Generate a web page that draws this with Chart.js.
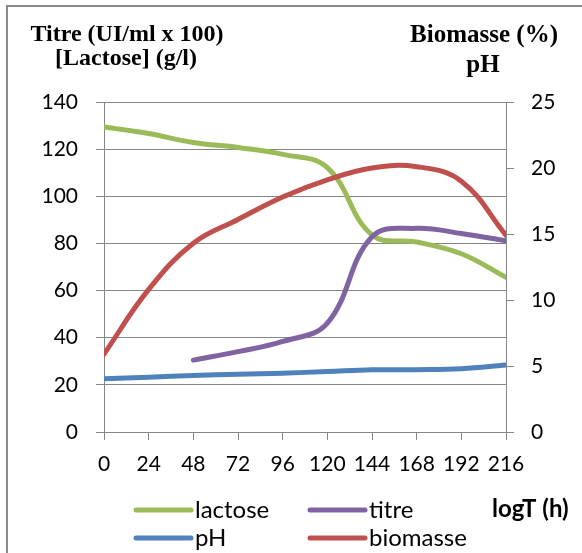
<!DOCTYPE html>
<html>
<head>
<meta charset="utf-8">
<script src="https://cdn.jsdelivr.net/npm/chart.js@4"></script>
<style>
  html, body { margin: 0; padding: 0; background: #fff; }
  canvas { display: block; }
</style>
</head>
<body>
<canvas id="graphe" width="582" height="553"></canvas>
<script>
// temps de prélèvement (h)
const heures = [0, 24, 48, 72, 96, 120, 144, 168, 192, 216];

// axe de gauche
const lactose = [129.4, 126.6, 122.8, 120.7, 117.8, 112.2, 83.6, 80.6, 75.6, 65.6];
const titre = [null, null, 30.5, 34.1, 38.4, 46.2, 82.8, 86.4, 84.2, 81.1];

// axe de droite
const ph = [4.03, 4.15, 4.28, 4.37, 4.46, 4.58, 4.71, 4.72, 4.79, 5.07];
const biomasse = [5.9, 10.8, 14.3, 16.1, 17.8, 19.1, 20.0, 20.1, 19.0, 14.9];

const ticksGauche = [0, 20, 40, 60, 80, 100, 120, 140];
const ticksDroite = [0, 5, 10, 15, 20, 25];

const GRIS = '#868686';
const POLICE = 'Lato, "Open Sans", sans-serif';

function points(vals) {
    return heures.map((h, i) => ({ x: h, y: vals[i] })).filter(p => p.y !== null);
}

function serie(label, vals, couleur, axe, ordre) {
    return {
        label: label,
        data: points(vals),
        yAxisID: axe,
        borderColor: couleur,
        backgroundColor: couleur,
        borderWidth: 5,
        borderCapStyle: 'round',
        borderJoinStyle: 'round',
        pointRadius: 0,
        tension: 0.4,
        fill: false,
        order: ordre
    };
}

// titres d'axes, légende et cadre dessinés à la main
const decor = {
    id: 'decor',
    afterDraw(chart) {
        const ctx = chart.ctx;
        ctx.save();

        ctx.strokeStyle = '#8a8a8a';
        ctx.lineWidth = 2;
        ctx.beginPath();
        ctx.moveTo(7, 553);
        ctx.lineTo(7, 6);
        ctx.lineTo(582, 6);
        ctx.stroke();

        ctx.fillStyle = '#000';
        ctx.font = 'bold 24px "Liberation Serif", "Times New Roman", serif';
        ctx.textAlign = 'center';
        ctx.textBaseline = 'alphabetic';
        ctx.fillText('Titre (UI/ml x 100)', 127, 41);
        ctx.fillText('[Lactose] (g/l)', 126, 65);
        ctx.font = 'bold 25px "Liberation Serif", "Times New Roman", serif';
        ctx.fillText('Biomasse (%)', 484, 42);
        ctx.fillText('pH', 483, 72);

        ctx.font = 'bold 24px ' + POLICE;
        ctx.textAlign = 'left';
        ctx.fillText('logT (h)', 492, 517);

        // légende sur deux colonnes
        const cases = [
            { ds: 0, x: 136, y: 510 },
            { ds: 1, x: 310, y: 510 },
            { ds: 2, x: 136, y: 538 },
            { ds: 3, x: 310, y: 538 }
        ];
        ctx.font = '24px ' + POLICE;
        ctx.lineWidth = 5;
        ctx.lineCap = 'round';
        cases.forEach(c => {
            const ds = chart.data.datasets[c.ds];
            ctx.strokeStyle = ds.borderColor;
            ctx.beginPath();
            ctx.moveTo(c.x, c.y);
            ctx.lineTo(c.x + 55, c.y);
            ctx.stroke();
            ctx.fillStyle = '#000';
            ctx.fillText(ds.label, c.x + 59, c.y + 8);
        });

        ctx.restore();
    }
};

new Chart(document.getElementById('graphe'), {
    type: 'line',
    data: {
        datasets: [
            serie('lactose', lactose, '#9BBB59', 'y', 4),
            serie('titre', titre, '#8064A2', 'y', 3),
            serie('pH', ph, '#4F81BD', 'y2', 2),
            serie('biomasse', biomasse, '#C0504D', 'y2', 1)
        ]
    },
    options: {
        responsive: false,
        animation: false,
        layout: { padding: { top: 102, left: 0, right: 0, bottom: 0 } },
        plugins: {
            legend: { display: false },
            tooltip: { enabled: false }
        },
        scales: {
            x: {
                type: 'linear',
                min: 0,
                max: 216,
                afterFit: s => { s.height = 121; },
                afterBuildTicks: s => { s.ticks = heures.map(v => ({ value: v })); },
                grid: { drawOnChartArea: false, tickLength: 8, color: GRIS },
                border: { color: GRIS },
                ticks: { color: '#000', padding: 12, maxRotation: 0, autoSkip: false, font: { family: POLICE, size: 21 } }
            },
            y: {
                position: 'left',
                min: 0,
                max: 140,
                afterFit: s => { s.width = 104; },
                afterBuildTicks: s => { s.ticks = ticksGauche.map(v => ({ value: v })); },
                grid: { color: GRIS, tickLength: 8 },
                border: { color: GRIS },
                ticks: { color: '#000', padding: 18, font: { family: POLICE, size: 21 } }
            },
            y2: {
                position: 'right',
                min: 0,
                max: 25,
                afterFit: s => { s.width = 76; },
                afterBuildTicks: s => { s.ticks = ticksDroite.map(v => ({ value: v })); },
                grid: { drawOnChartArea: false, color: GRIS, tickLength: 8 },
                border: { color: GRIS },
                ticks: { color: '#000', padding: 17, font: { family: POLICE, size: 21 } }
            }
        }
    },
    plugins: [decor]
});
</script>
</body>
</html>
